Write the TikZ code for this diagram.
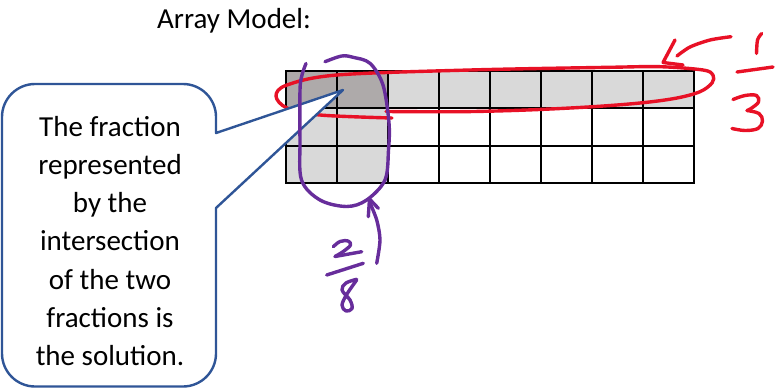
\documentclass[tikz,border=0pt]{standalone}
\usepackage{fontspec}
\setmainfont{Carlito}
\usepackage{xcolor}
\usepackage{tikz}
\usetikzlibrary{calc}

\definecolor{inkred}{RGB}{232,17,38}
\definecolor{inkpurple}{RGB}{103,45,155}
\definecolor{calloutblue}{RGB}{47,85,151}
\definecolor{lightshade}{RGB}{217,217,217}
\definecolor{darkshade}{RGB}{174,170,170}

\begin{document}
\begin{tikzpicture}[
    x=1pt, y=-1pt,
    gridline/.style={draw=black, line width=2.2pt},
    pen/.style={line width=3.4pt, line cap=round, line join=round},
    redpen/.style={pen, draw=inkred},
    purplepen/.style={pen, draw=inkpurple},
    callout/.style={draw=calloutblue, line width=2.4pt, fill=white, line join=round},
    bigtext/.style={font=\fontsize{29}{38.3}\selectfont, inner sep=0pt}
]
\useasboundingbox (0,0) rectangle (775,388);

% --- Title ---
\node[bigtext, anchor=base west] (title) at (157,28) {Array Model:};

% --- Array: 3 rows x 8 columns, shaded thirds and eighths ---
\fill[lightshade] (286,71) rectangle (694,108.33);
\fill[lightshade] (286,71) rectangle (388,183);
\fill[darkshade]  (286,71) rectangle (388,108.33);
\foreach \i in {0,...,8}
  \draw[gridline] ({286+51*\i},71) -- ({286+51*\i},183);
\foreach \j in {0,...,3}
  \draw[gridline] (285,{71+37.33*\j}) -- (695,{71+37.33*\j});

% --- Red loop round the top row, with its 1/3 ---
\draw[redpen] plot[smooth, tension=0.55] coordinates {
  (392,118) (320,115) (287,108) (276,96) (287,85) (337,75) (470,70)
  (610,67.3) (660,66.7) (703,70) (713,75) (712,83) (700,91.7) (677,98)
  (643,102.7) (593,106.7) (527,110) (460,111.7) (386,111.5)};
\draw[redpen] plot[smooth] coordinates {(731,36.7) (710,40) (690,47) (677,56)};
\draw[redpen] (675,40) -- (663,62.5) -- (683,65);
\draw[redpen] plot[smooth] coordinates {(761.7,33.5) (757.5,40) (756.5,53.5)};
\draw[redpen] (737,72) -- (773,67);
\draw[redpen] plot[smooth, tension=0.6] coordinates {
  (733,99.5) (745,95.5) (756.5,95.5) (758.5,102) (751,108.5) (747,110.5)};
\draw[redpen] plot[smooth, tension=0.6] coordinates {
  (747,110.5) (759,113.5) (762.5,121) (758,128.5) (745,130.5) (732,128.5)};

% --- Callout pointing at the intersection ---
\coordinate (tip) at (343,90);
\draw[callout] (216,133) -- (tip) -- (216,208) -- (216,353.5)
  .. controls (216,371.7) and (201.2,386.5) .. (183,386.5) -- (35,386.5)
  .. controls (16.8,386.5) and (2,371.7) .. (2,353.5) -- (2,117)
  .. controls (2,98.8) and (16.8,84) .. (35,84) -- (183,84)
  .. controls (201.2,84) and (216,98.8) .. (216,117) -- cycle;
\node[bigtext, align=center] (note) at (110,241)
  {The fraction\\represented\\by the\\intersection\\of the two\\fractions is\\the solution.};

% --- Purple loop round the first two columns, with its 2/8 ---
\draw[purplepen] plot[smooth, tension=0.55] coordinates {
  (306,63.5) (302,75) (300,90) (300,140) (301.5,180) (320,200) (346.7,206.5)
  (366.7,200) (385,180) (388.5,150) (389,123) (383,85) (370,63.3)
  (353,57.3) (341.7,56) (325,61.7)};
\draw[purplepen] plot[smooth] coordinates {(376.7,263.3) (380,240) (376.7,220) (370,203)};
\draw[purplepen] (368.3,216.7) -- (369.5,199) -- (378.3,208.3);
\draw[purplepen] plot[smooth, tension=0.6] coordinates {
  (333.3,246.7) (340,241.5) (348,241) (350.5,245) (344,251) (335,256.5)};
\draw[purplepen] (335,256.5) -- (361.7,251.7);
\draw[purplepen] (326.7,275) -- (363.3,263.3);
\draw[purplepen] plot[smooth, tension=0.6] coordinates {
  (356.7,279.3) (346,283) (342,290) (350,300) (352,308.5) (346,311)
  (342,305) (347,294) (356.7,280)};
\end{tikzpicture}
\end{document}
